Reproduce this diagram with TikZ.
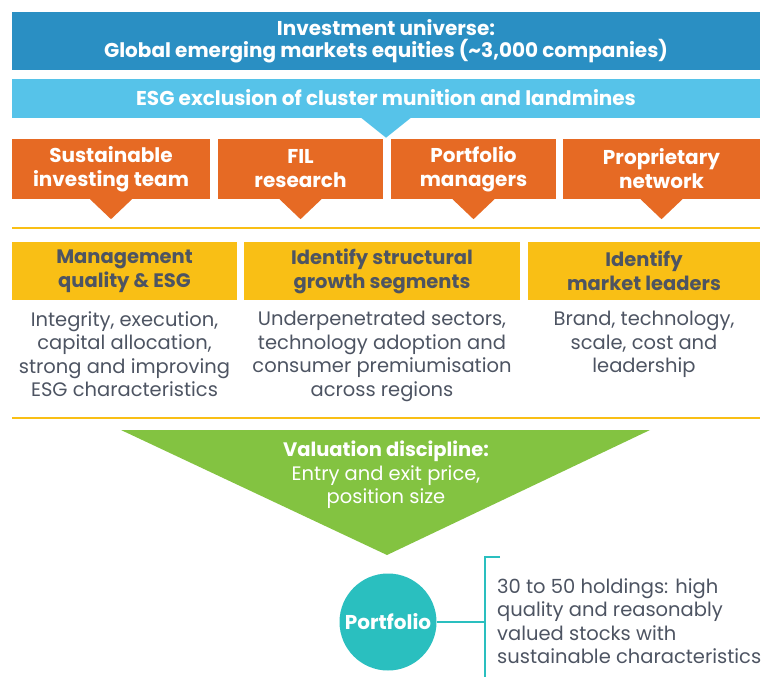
\documentclass[tikz,border=0pt]{standalone}
\usepackage{fontspec}
\setmainfont{Poppins}
\usepackage{tikz}
\usetikzlibrary{calc}
\usetikzlibrary{positioning}
\definecolor{deepblue}{HTML}{2A8FC3}
\definecolor{skyblue}{HTML}{56C3E9}
\definecolor{flame}{HTML}{E66A24}
\definecolor{amber}{HTML}{F9BF15}
\definecolor{leaf}{HTML}{83C341}
\definecolor{teal}{HTML}{2ABFBF}
\definecolor{slate}{HTML}{4D5462}
\tikzstyle{universe}=[
        rectangle,
        fill=deepblue,
        text=white,
        font=\bfseries\fontsize{20}{22}\selectfont,
        align=center,
        minimum width=748pt,
        minimum height=58pt
]
\tikzstyle{exclusion}=[rectangle,fill=skyblue,text=white,font=\bfseries\fontsize{20}{22}\selectfont,minimum width=748pt,minimum height=39pt]
\tikzstyle{source}=[rectangle,fill=flame,text=white,font=\bfseries\fontsize{20}{24}\selectfont,align=center,minimum height=60pt]
\tikzstyle{criterion}=[rectangle,fill=amber,text=slate,font=\bfseries\fontsize{19.5}{24}\selectfont,align=center,minimum height=58pt]
\tikzstyle{detail}=[text=slate,font=\fontsize{19.5}{23.5}\selectfont,align=center,inner sep=0pt]
\tikzstyle{portfolio}=[circle,fill=teal,text=white,font=\bfseries\fontsize{20}{20}\selectfont,minimum size=97pt,inner sep=0pt]
\tikzstyle{rule}=[amber,line width=2.5pt]
\tikzstyle{link}=[teal,line width=2pt]

\begin{document}
\begin{tikzpicture}[x=1pt,y=-1pt]
\useasboundingbox (0,0) rectangle (776,677);
\node[universe] (u) at (386,41) {Investment universe:\\Global emerging markets equities (\textasciitilde3,000 companies)};
\node[exclusion] (x) at (386,98) {ESG exclusion of cluster munition and landmines};
\node[source,minimum width=198pt] (s1) at (111,169) {Sustainable\\investing team};
\node[source,minimum width=165pt] (s2) at (300.5,169) {FIL\\research};
\node[source,minimum width=165pt] (s3) at (473.5,169) {Portfolio\\managers};
\node[source,minimum width=197pt] (s4) at (661.5,169) {Proprietary\\network};
\node[criterion,minimum width=225pt] (c1) at (124.5,271) {Management\\quality \& ESG};
\node[criterion,minimum width=276pt] (c2) at (382,271) {Identify structural\\growth segments};
\node[criterion,minimum width=232pt] (c3) at (644,271) {Identify\\market leaders};
\node[detail,anchor=north] (d1) at (124.5,311) {Integrity, execution,\\capital allocation,\\strong and improving\\ESG characteristics};
\node[detail,anchor=north] (d2) at (382,311) {Underpenetrated sectors,\\technology adoption and\\consumer premiumisation\\across regions};
\node[detail,anchor=north] (d3) at (644,311) {Brand, technology,\\scale, cost and\\leadership};
% pointers
\fill[skyblue] ($(x.south)+(-25,0)$) -- ($(x.south)+(25,0)$) -- ($(x.south)+(0,20)$) -- cycle;
\fill[flame] ($(s1.south)+(-21,0)$) -- ($(s1.south)+(21,0)$) -- ($(s1.south)+(0,20)$) -- cycle;
\fill[flame] ($(s2.south)+(-21,0)$) -- ($(s2.south)+(21,0)$) -- ($(s2.south)+(0,20)$) -- cycle;
\fill[flame] ($(s3.south)+(-21,0)$) -- ($(s3.south)+(21,0)$) -- ($(s3.south)+(0,20)$) -- cycle;
\fill[flame] ($(s4.south)+(-21,0)$) -- ($(s4.south)+(21,0)$) -- ($(s4.south)+(0,20)$) -- cycle;
\draw[rule] (12,228) -- (760,228);
\draw[rule] (12,418) -- (760,418);
% valuation funnel
\fill[leaf] (121,430) -- (650,430) -- (387,555) -- cycle;
\node[detail,text=white] (v) at (386,475) {\textbf{Valuation discipline:}\\Entry and exit price,\\position size};
\node[portfolio] (p) at (388,622) {Portfolio};
\coordinate (bm) at (485,622);
\coordinate (bt) at (485,557);
\coordinate (bb) at (485,677);
\draw[link] (p) -- (bm);
\draw[link] ($(bt)+(15,0)$) -- (bt) -- (bb);
\node[detail,align=left,anchor=west] (h) at (497,621) {30 to 50 holdings: high\\quality and reasonably\\valued stocks with\\sustainable characteristics};
\end{tikzpicture}
\end{document}
